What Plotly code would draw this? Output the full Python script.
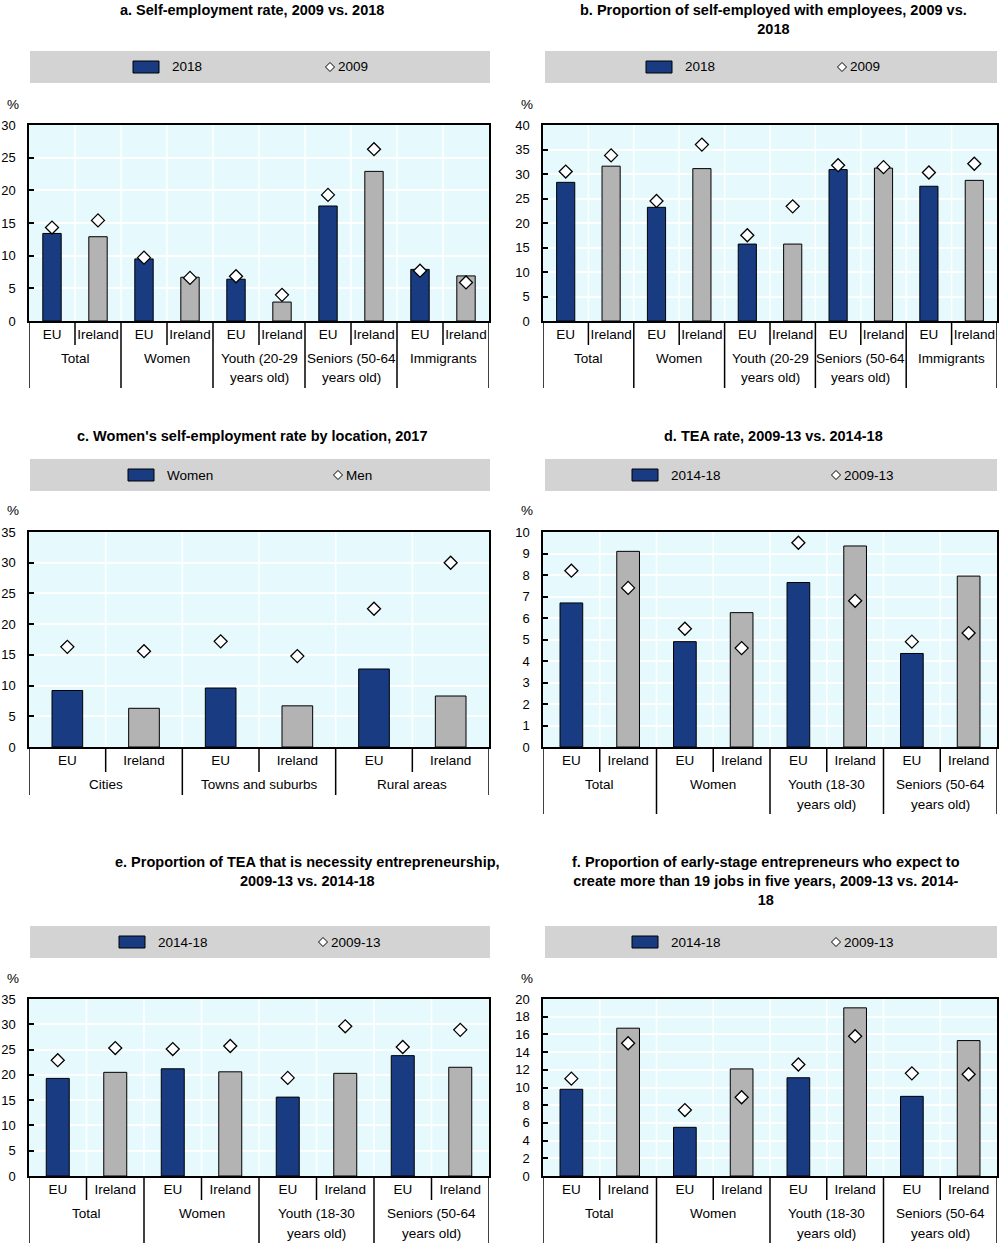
import plotly.graph_objects as go

W, H = 1000, 1244
FONT = "Liberation Sans Narrow, Arial Narrow, Liberation Sans, Arial, sans-serif"
FS = 13.5
BLUE = "#183B82"
GREY = "#B3B3B3"
PLOTBG = "#E6FAFD"
LEGBG = "#D3D3D3"

# ---------------- data ----------------
subcats = ["EU", "Ireland"]

groups_ab = ["Total", "Women", "Youth (20-29<br>years old)", "Seniors (50-64<br>years old)", "Immigrants"]
a_2018 = [13.4, 12.9, 9.5, 6.7, 6.4, 2.9, 17.6, 22.9, 7.9, 6.9]
a_2009 = [14.3, 15.4, 9.7, 6.6, 6.85, 4.0, 19.3, 26.3, 7.7, 5.9]
b_2018 = [28.3, 31.6, 23.2, 31.1, 15.7, 15.7, 30.9, 31.2, 27.5, 28.7]
b_2009 = [30.5, 33.8, 24.5, 36.0, 17.5, 23.4, 31.8, 31.4, 30.3, 32.1]

groups_c = ["Cities", "Towns and suburbs", "Rural areas"]
c_women = [9.2, 6.3, 9.6, 6.7, 12.7, 8.3]
c_men = [16.3, 15.6, 17.2, 14.8, 22.5, 30.0]

groups_def = ["Total", "Women", "Youth (18-30<br>years old)", "Seniors (50-64<br>years old)"]
d_1418 = [6.7, 9.1, 4.9, 6.25, 7.65, 9.35, 4.35, 7.95]
d_0913 = [8.2, 7.4, 5.5, 4.6, 9.5, 6.8, 4.9, 5.3]
e_1418 = [19.3, 20.5, 21.2, 20.6, 15.6, 20.3, 23.8, 21.5]
e_0913 = [22.9, 25.3, 25.1, 25.7, 19.4, 29.6, 25.5, 28.9]
f_1418 = [9.8, 16.7, 5.5, 12.1, 11.1, 19.0, 9.0, 15.3]
f_0913 = [11.0, 15.0, 7.45, 8.9, 12.6, 15.8, 11.6, 11.5]

titles = {
    "a": "a. Self-employment rate, 2009 vs. 2018",
    "b": "b. Proportion of self-employed with employees, 2009 vs.<br>2018",
    "c": "c. Women's self-employment rate by location, 2017",
    "d": "d. TEA rate, 2009-13 vs. 2014-18",
    "e": "e. Proportion of TEA that is necessity entrepreneurship,<br>2009-13 vs. 2014-18",
    "f": "f. Proportion of early-stage entrepreneurs who expect to<br>create more than 19 jobs in five years, 2009-13 vs. 2014-<br>18",
}

# ---------------- helpers ----------------
def fx(px):
    return px / W

def fy(py):
    return 1 - py / H

fig = go.Figure()
shapes = []
annos = []

panels = [
    dict(key="a", groups=groups_ab, bars=a_2018, dia=a_2009, bname="2018", dname="2009",
         ymax=30, dtick=5, box=(29, 489, 125, 321), sep_s=345, sep_l=388,
         tcx=252, tty=0, leg=(30, 490, 51, 83), swx=133, dix=330),
    dict(key="b", groups=groups_ab, bars=b_2018, dia=b_2009, bname="2018", dname="2009",
         ymax=40, dtick=5, box=(543, 997, 125, 321), sep_s=345, sep_l=388,
         tcx=773, tty=0, leg=(545, 997, 51, 83), swx=646, dix=842),
    dict(key="c", groups=groups_c, bars=c_women, dia=c_men, bname="Women", dname="Men",
         ymax=35, dtick=5, box=(29, 489, 532, 747), sep_s=772, sep_l=795,
         tcx=252, tty=426, leg=(30, 490, 459, 491), swx=128, dix=338),
    dict(key="d", groups=groups_def, bars=d_1418, dia=d_0913, bname="2014-18", dname="2009-13",
         ymax=10, dtick=1, box=(543, 997, 532, 747), sep_s=772, sep_l=814,
         tcx=773, tty=426, leg=(545, 997, 459, 491), swx=632, dix=836),
    dict(key="e", groups=groups_def, bars=e_1418, dia=e_0913, bname="2014-18", dname="2009-13",
         ymax=35, dtick=5, box=(29, 489, 999, 1176), sep_s=1200, sep_l=1243,
         tcx=307, tty=852, leg=(30, 490, 926, 958), swx=119, dix=323),
    dict(key="f", groups=groups_def, bars=f_1418, dia=f_0913, bname="2014-18", dname="2009-13",
         ymax=20, dtick=2, box=(543, 997, 999, 1176), sep_s=1200, sep_l=1243,
         tcx=766, tty=852, leg=(545, 997, 926, 958), swx=632, dix=836),
]

layout = dict(
    width=W, height=H,
    margin=dict(l=0, r=0, t=0, b=0, pad=0, autoexpand=False),
    paper_bgcolor="white",
    plot_bgcolor=PLOTBG,
    showlegend=False,
    font=dict(family=FONT, size=FS, color="black"),
)

for i, p in enumerate(panels, start=1):
    xa = "x" if i == 1 else f"x{i}"
    ya = "y" if i == 1 else f"y{i}"
    xkey = "xaxis" if i == 1 else f"xaxis{i}"
    ykey = "yaxis" if i == 1 else f"yaxis{i}"
    ng = len(p["groups"])
    n = ng * len(subcats)
    xs = list(range(n))
    labels = [subcats[k % 2] for k in range(n)]
    colors = [BLUE if k % 2 == 0 else GREY for k in range(n)]
    x0, x1, yt, yb = p["box"]

    fig.add_trace(go.Bar(x=xs, y=p["bars"], xaxis=xa, yaxis=ya, width=0.4,
                         marker=dict(color=colors, line=dict(color="black", width=1)),
                         name=p["bname"]))
    fig.add_trace(go.Scatter(x=xs, y=p["dia"], xaxis=xa, yaxis=ya, mode="markers",
                             marker=dict(symbol="diamond", size=10, color="white",
                                         line=dict(color="black", width=1.3)),
                             name=p["dname"]))

    layout[xkey] = dict(
        domain=[fx(x0), fx(x1)], anchor=ya, range=[-0.5, n - 0.5], automargin=False,
        tickmode="array", tickvals=xs, ticktext=labels, ticks="",
        showgrid=False, zeroline=False, showline=True, linecolor="black", linewidth=1.5,
        mirror=True, tickfont=dict(family=FONT, size=FS), fixedrange=True,
    )
    layout[ykey] = dict(
        domain=[fy(yb), fy(yt)], anchor=xa, range=[0, p["ymax"]], dtick=p["dtick"],
        automargin=False,
        tick0=0, ticks="inside", ticklen=5, tickwidth=1.5, tickcolor="black",
        showgrid=True, gridcolor="white", gridwidth=1.5, zeroline=False,
        showline=True, linecolor="black", linewidth=1.5, mirror=True,
        tickfont=dict(family=FONT, size=13), ticklabelstandoff=9, fixedrange=True,
    )

    # vertical white gridlines at category boundaries
    for k in range(n - 1):
        shapes.append(dict(type="line", xref=xa, yref="paper", x0=k + 0.5, x1=k + 0.5,
                           y0=fy(yb), y1=fy(yt), line=dict(color="white", width=1.5),
                           layer="below"))
    # separators below the axis
    for k in range(n + 1):
        long = (k % 2 == 0)
        shapes.append(dict(type="line", xref=xa, yref="paper", x0=k - 0.5, x1=k - 0.5,
                           y0=fy(yb), y1=fy(p["sep_l"] if long else p["sep_s"]),
                           line=dict(color="black", width=1.5)))
    # group labels (each text line placed on its own row)
    for g, name in enumerate(p["groups"]):
        for li, line in enumerate(name.split("<br>")):
            annos.append(dict(xref=xa, yref="paper", x=2 * g + 0.5, y=fy(yb + 37 + 20 * li),
                              text=line, showarrow=False, xanchor="center", yanchor="middle",
                              font=dict(family=FONT, size=FS)))
    # % unit label
    annos.append(dict(xref="paper", yref="paper", x=fx(x0 - 16), y=fy(yt - 21), text="%",
                      showarrow=False, xanchor="center", yanchor="middle",
                      font=dict(family=FONT, size=FS)))
    # title
    annos.append(dict(xref="paper", yref="paper", x=fx(p["tcx"]), y=fy(p["tty"]),
                      text="<b>" + titles[p["key"]] + "</b>", showarrow=False,
                      xanchor="center", yanchor="top", align="center",
                      font=dict(family=FONT, size=14.5)))
    # legend box
    lx0, lx1, ly0, ly1 = p["leg"]
    lyc = (ly0 + ly1) / 2
    shapes.append(dict(type="rect", xref="paper", yref="paper", x0=fx(lx0), x1=fx(lx1),
                       y0=fy(ly1), y1=fy(ly0), fillcolor=LEGBG, line=dict(width=0),
                       layer="below"))
    sx = p["swx"]
    shapes.append(dict(type="rect", xref="paper", yref="paper", x0=fx(sx), x1=fx(sx + 26),
                       y0=fy(lyc + 6), y1=fy(lyc - 6), fillcolor=BLUE,
                       line=dict(color="black", width=1)))
    annos.append(dict(xref="paper", yref="paper", x=fx(sx + 37), y=fy(lyc), text=p["bname"],
                      showarrow=False, xanchor="left", yanchor="middle",
                      font=dict(family=FONT, size=FS)))
    dx = p["dix"]
    r = 4.5
    path = (f"M {fx(dx - r)},{fy(lyc)} L {fx(dx)},{fy(lyc - r)} "
            f"L {fx(dx + r)},{fy(lyc)} L {fx(dx)},{fy(lyc + r)} Z")
    shapes.append(dict(type="path", xref="paper", yref="paper", path=path, fillcolor="white",
                       line=dict(color="black", width=1)))
    annos.append(dict(xref="paper", yref="paper", x=fx(dx + 6), y=fy(lyc), text=p["dname"],
                      showarrow=False, xanchor="left", yanchor="middle",
                      font=dict(family=FONT, size=FS)))

layout["shapes"] = shapes
layout["annotations"] = annos
fig.update_layout(**layout)
fig.write_html("out.html")
